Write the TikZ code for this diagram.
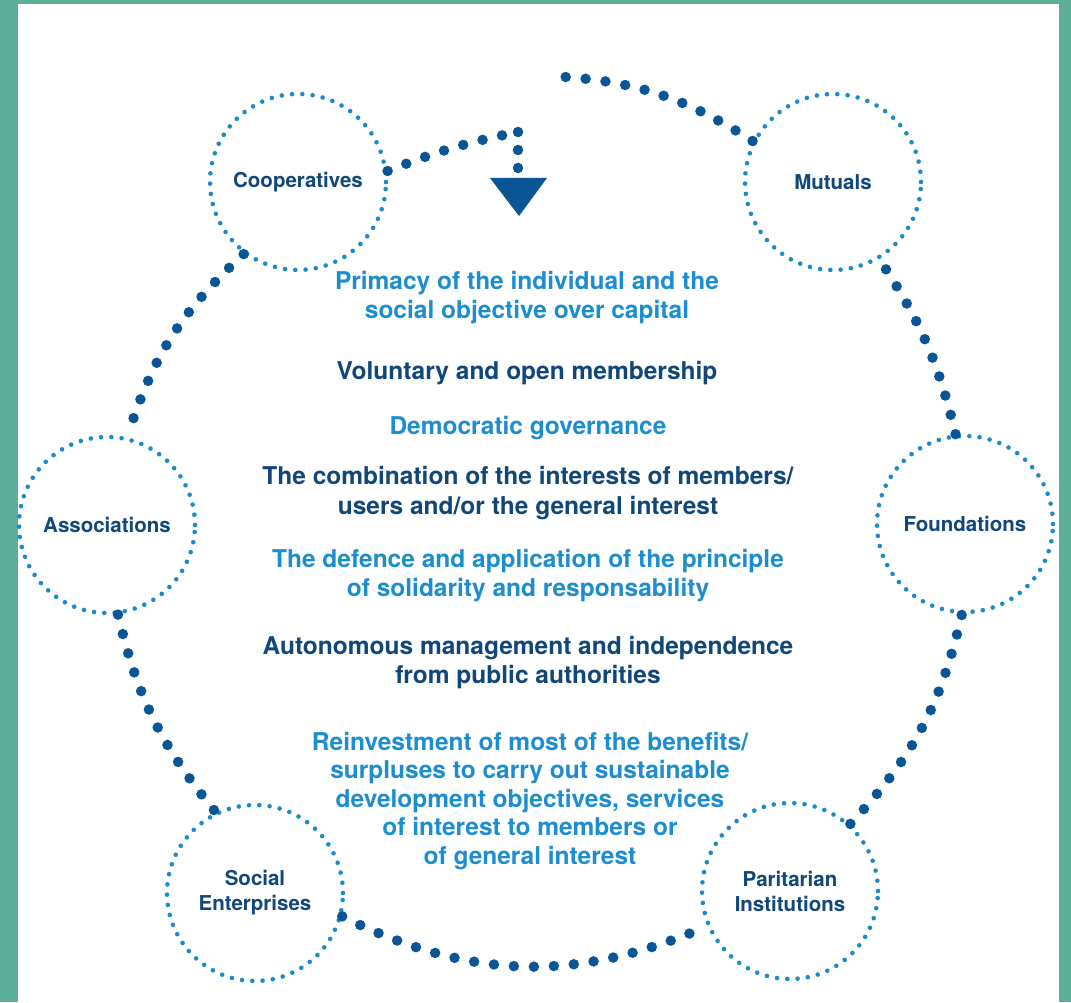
\documentclass[tikz,border=0pt]{standalone}
\usepackage{fontspec}
\setmainfont{TeX Gyre Heros}
\usetikzlibrary{
	positioning		% relative placement
	, calc
}

\definecolor{framegreen}{RGB}{91,175,153}
\definecolor{lightblue}{RGB}{28,141,206}
\definecolor{darkblue}{RGB}{16,70,120}
\definecolor{dotblue}{RGB}{10,85,150}
\definecolor{ringblue}{RGB}{25,140,200}

\begin{document}
\begin{tikzpicture}[
				x=1pt, y=1pt,
				family/.style={
					circle,
					draw=ringblue,
					line width=4.6pt,
					dash pattern=on 0pt off 10.3pt,
					line cap=round,
					minimum size=176pt,
					inner sep=0pt,
					align=center,
					text=darkblue,
					font=\fontsize{20.5}{25}\selectfont\bfseries
				},
				link/.style={
					draw=dotblue,
					line width=10.5pt,
					dash pattern=on 0pt off 20pt,
					line cap=round
				},
				principle/.style={
					align=center,
					font=\fontsize{24.5}{29.5}\selectfont\bfseries
				}]

			%%% Frame
			\fill [framegreen] (0,0) rectangle (1071,1002);
			\fill [white] (18,0) rectangle (1059,998);

			%%% The six families round the ring
			\foreach \name/\x/\y/\txt in {
					coop/298/820/Cooperatives,
					mutu/833/820/Mutuals,
					assoc/107/477/Associations,
					found/965/478/Foundations,
					social/255/109/{Social\\Enterprises},
					parit/790/111/{Paritarian\\Institutions}} {
				\node [family] (\name) at (\x,\y) {\txt};
			};

			%%% Open end of the ring and the drop into the centre
			\coordinate (gap) at (548,926);
			\coordinate (turn) at (518,870);
			\coordinate (drop) at (518,832.5);
			\coordinate (tip) at (519,786);

			\draw [link] (coop.233) to[bend right=15] (assoc.77);
			\draw [link] (assoc.277) to[bend right=13] (social.116);
			\draw [link] (social.345) to[bend right=25] (parit.203);
			\draw [link] (parit.48) to[bend right=15] (found.268);
			\draw [link] (found.96) to[bend right=10] (mutu.301);
			\draw [link] (mutu.153) to[bend right=15] (gap);
			\draw [link] (coop.7) to[bend left=5] (turn);
			\draw [link, dash pattern=on 0pt off 18pt] (turn) -- (drop);
			\fill [dotblue] (tip) -- ++(-29,38) -- ++(57,0) -- cycle;

			%%% Principles
			\node [principle, text=lightblue] (primacy) at (527,704.5)
				{Primacy of the individual and the\\social objective over capital};
			\node [principle, text=darkblue] (voluntary) at (527,629)
				{Voluntary and open membership};
			\node [principle, text=lightblue] (democratic) at (528,574)
				{Democratic governance};
			\node [principle, text=darkblue] (interests) at (528,509)
				{The combination of the interests of members/\\users and/or the general interest};
			\node [principle, text=lightblue] (solidarity) at (528,426.5)
				{The defence and application of the principle\\of solidarity and responsability};
			\node [principle, text=darkblue] (autonomy) at (528,339.5)
				{Autonomous management and independence\\from public authorities};
			\node [principle, text=lightblue, font=\fontsize{24.5}{28.5}\selectfont\bfseries] (reinvest) at (530,201)
				{Reinvestment of most of the benefits/\\surpluses to carry out sustainable\\development objectives, services\\of interest to members or\\of general interest};

		\end{tikzpicture}
\end{document}
